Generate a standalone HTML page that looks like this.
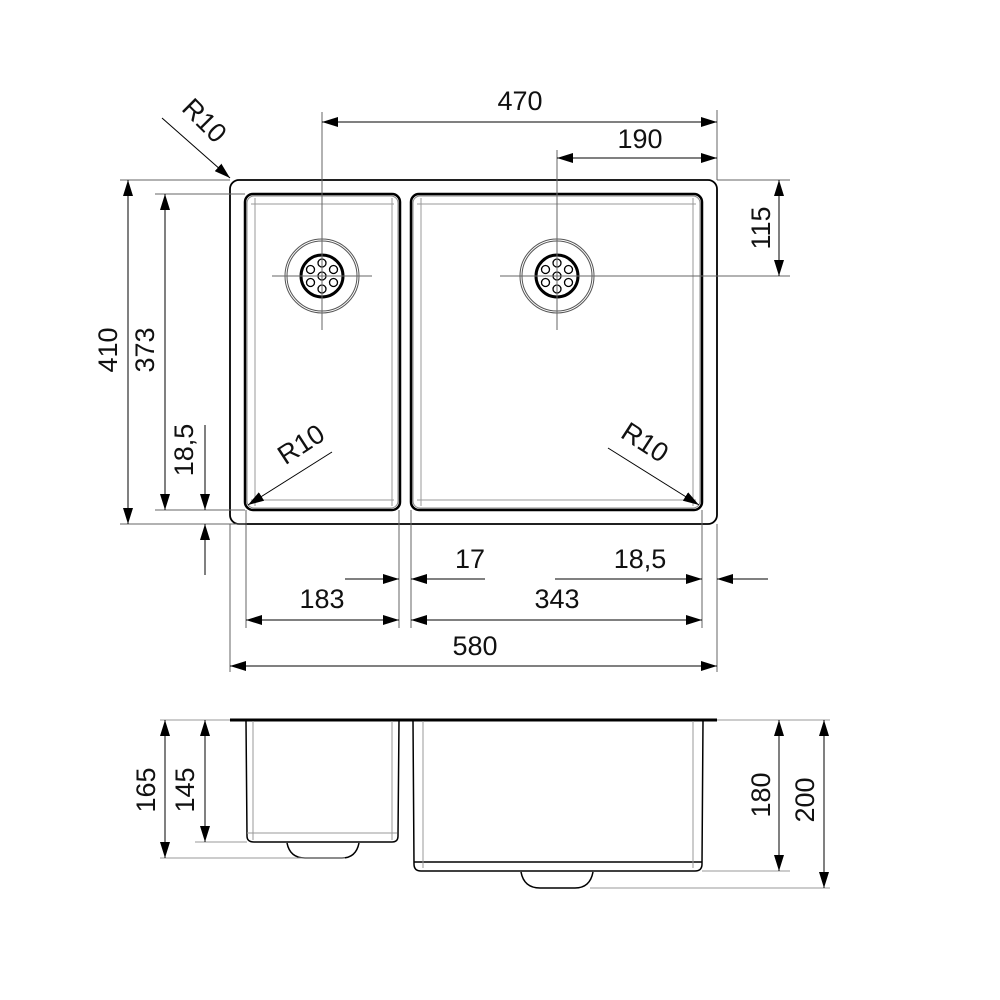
<!DOCTYPE html>
<html><head><meta charset="utf-8"><style>
html,body{margin:0;padding:0;background:#fff;}
svg{display:block;}
text{font-family:"Liberation Sans",sans-serif;font-size:27px;fill:#111;}
</style></head><body>
<svg width="1000" height="1000" viewBox="0 0 1000 1000" xmlns="http://www.w3.org/2000/svg">
<defs>
<marker id="a" viewBox="0 0 16 10" refX="16" refY="5" markerWidth="16" markerHeight="10" markerUnits="userSpaceOnUse" orient="auto"><path d="M0,0 L16,5 L0,10 Z" fill="#000"/></marker>
<marker id="s" viewBox="0 0 16 10" refX="0" refY="5" markerWidth="16" markerHeight="10" markerUnits="userSpaceOnUse" orient="auto"><path d="M16,0 L0,5 L16,10 Z" fill="#000"/></marker>
<g id="drain">
<circle r="37" fill="none" stroke="#555" stroke-width="1"/>
<circle r="35" fill="none" stroke="#555" stroke-width="1"/>
<circle r="21" fill="none" stroke="#000" stroke-width="3"/>
<g fill="none" stroke="#000" stroke-width="1.3">
<circle r="4"/><circle cx="0" cy="-13" r="4"/><circle cx="0" cy="13" r="4"/>
<circle cx="11.5" cy="-6.5" r="4"/><circle cx="-11.5" cy="-6.5" r="4"/><circle cx="11.5" cy="6.5" r="4"/><circle cx="-11.5" cy="6.5" r="4"/>
</g>
</g>
</defs>

<!-- top view -->
<rect x="230" y="180" width="487" height="344" rx="9" fill="none" stroke="#000" stroke-width="1.8"/>
<rect x="245" y="194" width="155" height="316" rx="8" fill="none" stroke="#000" stroke-width="2.5"/>
<rect x="247" y="196" width="151" height="312" rx="7" fill="none" stroke="#888" stroke-width="1"/>
<rect x="411" y="194" width="291" height="316" rx="8" fill="none" stroke="#000" stroke-width="2.5"/>
<rect x="413" y="196" width="287" height="312" rx="7" fill="none" stroke="#888" stroke-width="1"/>
<g stroke="#999" stroke-width="1">
<line x1="251" y1="204" x2="394" y2="204"/><line x1="251" y1="500" x2="394" y2="500"/>
<line x1="255" y1="198" x2="255" y2="506"/><line x1="392" y1="198" x2="392" y2="506"/>
<line x1="417" y1="204" x2="696" y2="204"/><line x1="417" y1="500" x2="696" y2="500"/>
<line x1="421" y1="198" x2="421" y2="506"/><line x1="693" y1="198" x2="693" y2="506"/>
</g>
<use href="#drain" x="322" y="276"/>
<use href="#drain" x="557" y="276"/>
<g stroke="#666" stroke-width="1">
<line x1="322" y1="112" x2="322" y2="330"/><line x1="272" y1="276" x2="372" y2="276"/>
<line x1="557" y1="150" x2="557" y2="330"/><line x1="500" y1="276" x2="790" y2="276"/>
<line x1="717" y1="110" x2="717" y2="180"/>
<line x1="717" y1="180" x2="790" y2="180"/>
<line x1="120" y1="180" x2="230" y2="180"/>
<line x1="155" y1="194" x2="245" y2="194"/>
<line x1="120" y1="524" x2="245" y2="524"/>
<line x1="155" y1="510" x2="245" y2="510"/>
<line x1="230" y1="524" x2="230" y2="672"/>
<line x1="246" y1="510" x2="246" y2="628"/>
<line x1="399" y1="510" x2="399" y2="628"/>
<line x1="411" y1="510" x2="411" y2="628"/>
<line x1="702" y1="510" x2="702" y2="628"/>
<line x1="717" y1="524" x2="717" y2="672"/>
</g>
<g stroke="#000" stroke-width="1" fill="none">
<line x1="322" y1="122" x2="717" y2="122" marker-start="url(#s)" marker-end="url(#a)"/>
<line x1="557" y1="158" x2="717" y2="158" marker-start="url(#s)" marker-end="url(#a)"/>
<line x1="779" y1="180" x2="779" y2="276" marker-start="url(#s)" marker-end="url(#a)"/>
<line x1="128" y1="180" x2="128" y2="524" marker-start="url(#s)" marker-end="url(#a)"/>
<line x1="165" y1="194" x2="165" y2="510" marker-start="url(#s)" marker-end="url(#a)"/>
<line x1="205" y1="425" x2="205" y2="510" marker-end="url(#a)"/>
<line x1="205" y1="575" x2="205" y2="524" marker-end="url(#a)"/>
<line x1="162" y1="118" x2="230" y2="178" marker-end="url(#a)"/>
<line x1="332" y1="452" x2="248" y2="505" marker-end="url(#a)"/>
<line x1="608" y1="448" x2="699" y2="505" marker-end="url(#a)"/>
<line x1="345" y1="579" x2="399" y2="579" marker-end="url(#a)"/>
<line x1="485" y1="579" x2="411" y2="579" marker-end="url(#a)"/>
<line x1="555" y1="579" x2="702" y2="579" marker-end="url(#a)"/>
<line x1="768" y1="579" x2="717" y2="579" marker-end="url(#a)"/>
<line x1="246" y1="620" x2="399" y2="620" marker-start="url(#s)" marker-end="url(#a)"/>
<line x1="411" y1="620" x2="702" y2="620" marker-start="url(#s)" marker-end="url(#a)"/>
<line x1="230" y1="666" x2="717" y2="666" marker-start="url(#s)" marker-end="url(#a)"/>
</g>
<text x="520" y="110" text-anchor="middle">470</text>
<text x="640" y="148" text-anchor="middle">190</text>
<text transform="translate(770,228) rotate(-90)" text-anchor="middle">115</text>
<text transform="translate(117,350) rotate(-90)" text-anchor="middle">410</text>
<text transform="translate(154,350) rotate(-90)" text-anchor="middle">373</text>
<text transform="translate(193,450) rotate(-90)" text-anchor="middle">18,5</text>
<text transform="translate(198,127) rotate(45)" text-anchor="middle">R10</text>
<text transform="translate(306,452) rotate(-33)" text-anchor="middle">R10</text>
<text transform="translate(640,450) rotate(33)" text-anchor="middle">R10</text>
<text x="470" y="568" text-anchor="middle">17</text>
<text x="640" y="568" text-anchor="middle">18,5</text>
<text x="322" y="608" text-anchor="middle">183</text>
<text x="557" y="608" text-anchor="middle">343</text>
<text x="475" y="655" text-anchor="middle">580</text>

<!-- side view -->
<line x1="230" y1="720" x2="717" y2="720" stroke="#000" stroke-width="3"/>
<g fill="none" stroke="#000" stroke-width="1.5">
<path d="M246,721 L247,836 Q247,842 254,842 L392,842 Q398,842 398,836 L399,721"/>
<path d="M287,843 Q290,858 305,858 L342,858 Q356,858 359,843"/>
<path d="M413,721 L414,864 Q414,871 421,871 L695,871 Q702,871 702,864 L703,721"/>
<path d="M521,872 Q524,888 540,888 L575,888 Q590,888 593,872"/>
<line x1="414" y1="862" x2="702" y2="862"/>
</g>
<g stroke="#999" stroke-width="1">
<line x1="253" y1="721" x2="253" y2="840"/><line x1="247" y1="833" x2="397" y2="833"/><line x1="392" y1="721" x2="392" y2="840"/>
<line x1="423" y1="721" x2="423" y2="868"/><line x1="693" y1="721" x2="693" y2="868"/>
<line x1="717" y1="720" x2="830" y2="720"/>
<line x1="160" y1="858" x2="345" y2="858"/>
<line x1="195" y1="842" x2="247" y2="842"/>
<line x1="702" y1="871" x2="790" y2="871"/>
<line x1="590" y1="888" x2="830" y2="888"/>
<line x1="160" y1="720" x2="230" y2="720"/>
</g>
<g stroke="#000" stroke-width="1">
<line x1="165" y1="720" x2="165" y2="858" marker-start="url(#s)" marker-end="url(#a)"/>
<line x1="205" y1="720" x2="205" y2="842" marker-start="url(#s)" marker-end="url(#a)"/>
<line x1="779" y1="720" x2="779" y2="871" marker-start="url(#s)" marker-end="url(#a)"/>
<line x1="824" y1="720" x2="824" y2="888" marker-start="url(#s)" marker-end="url(#a)"/>
</g>
<text transform="translate(155,790) rotate(-90)" text-anchor="middle">165</text>
<text transform="translate(194,790) rotate(-90)" text-anchor="middle">145</text>
<text transform="translate(770,795) rotate(-90)" text-anchor="middle">180</text>
<text transform="translate(814,800) rotate(-90)" text-anchor="middle">200</text>
</svg>
</body></html>
